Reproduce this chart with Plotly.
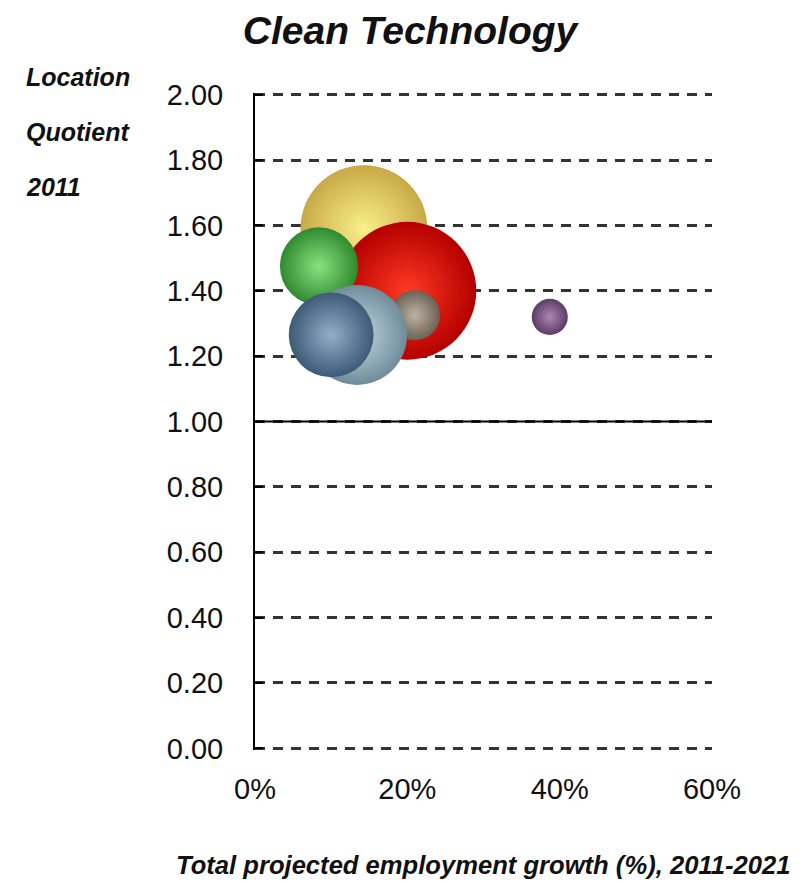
import plotly.graph_objects as go

# ---- data ----
segments = ["Segment 1", "Segment 2", "Segment 3", "Segment 4",
            "Segment 5", "Segment 6", "Segment 7"]
growth_pct = [14.3, 20.0, 8.4, 21.0, 13.4, 10.0, 38.7]          # x: projected employment growth 2011-2021 (%)
location_quotient = [1.59, 1.40, 1.475, 1.325, 1.265, 1.265, 1.32]  # y: LQ 2011
employment = [16100, 19000, 6100, 2500, 10000, 7200, 1300]       # bubble size
edge_colors = ["#C8A947", "#B40000", "#2F8A2F", "#6B6155", "#6F8C9B", "#3D5A76", "#5C3B66"]
core_colors = ["#F9F08A", "#FF3A22", "#8AE27E", "#BDB2A2", "#C6D8E1", "#90AFC8", "#AA88B2"]

x_ticks = [0, 20, 40, 60]
x_tick_labels = ["0%", "20%", "40%", "60%"]
y_ticks = [0.0, 0.2, 0.4, 0.6, 0.8, 1.0, 1.2, 1.4, 1.6, 1.8, 2.0]
LQ_BASELINE = 1.0

FONT = "Liberation Sans, Arial, sans-serif"

fig = go.Figure()
fig.add_trace(go.Scatter(
    x=growth_pct,
    y=location_quotient,
    mode="markers",
    text=segments,
    hovertemplate="%{text}<br>Growth: %{x}%<br>LQ: %{y:.2f}<extra></extra>",
    marker=dict(
        size=employment,
        sizemode="area",
        sizeref=2.0,
        color=edge_colors,
        gradient=dict(type="radial", color=core_colors),
        line=dict(width=0),
        opacity=1,
    ),
    cliponaxis=False,
    showlegend=False,
))

fig.add_shape(type="line", xref="paper", x0=0, x1=1, yref="y",
              y0=LQ_BASELINE, y1=LQ_BASELINE,
              line=dict(color="black", width=2), layer="above")

fig.update_layout(
    width=810, height=882, autosize=False,
    margin=dict(l=255, r=98, t=93, b=132),
    paper_bgcolor="white", plot_bgcolor="white",
    font=dict(family=FONT, color="#111"),
    title=dict(text="<b><i>Clean Technology</i></b>",
               x=410 / 810, xref="container", xanchor="center",
               y=1 - 30 / 882, yref="container", yanchor="middle",
               font=dict(size=39, family=FONT, color="#111")),
    xaxis=dict(range=[0, 60], tickvals=x_ticks, ticktext=x_tick_labels,
               showgrid=False, zeroline=False, showline=False, ticks="",
               tickfont=dict(size=29, family=FONT, color="#111"),
               ticklabelstandoff=19, fixedrange=True),
    yaxis=dict(range=[-0.005, 2.005], tickvals=y_ticks, tickformat=".2f",
               showgrid=True, gridcolor="#333", gridwidth=2.5, griddash="10px,8px",
               zeroline=False, showline=True, linecolor="black", linewidth=2,
               ticks="inside", ticklen=8, tickwidth=2, tickcolor="black",
               tickfont=dict(size=29, family=FONT, color="#111"),
               ticklabelstandoff=24, fixedrange=True),
    annotations=[
        dict(text="<b><i>Location</i></b>", xref="paper", yref="paper",
             x=(24 - 255) / 457, y=(748 - 79) / 653, xanchor="left", yanchor="middle",
             showarrow=False, font=dict(size=25, family=FONT, color="#111")),
        dict(text="<b><i>Quotient</i></b>", xref="paper", yref="paper",
             x=(24 - 255) / 457, y=(748 - 134) / 653, xanchor="left", yanchor="middle",
             showarrow=False, font=dict(size=25, family=FONT, color="#111")),
        dict(text="<b><i>2011</i></b>", xref="paper", yref="paper",
             x=(24 - 255) / 457, y=(748 - 188) / 653, xanchor="left", yanchor="middle",
             showarrow=False, font=dict(size=25, family=FONT, color="#111")),
        dict(text="<b><i>Total projected employment growth (%), 2011-2021</i></b>",
             xref="paper", yref="paper", x=0.498, y=(748 - 862) / 653,
             xanchor="center", yanchor="middle", showarrow=False,
             font=dict(size=25.6, family=FONT, color="#111")),
    ],
)

fig.write_html("out.html", config={"displayModeBar": False},
               post_script="document.body.style.margin='0';")
